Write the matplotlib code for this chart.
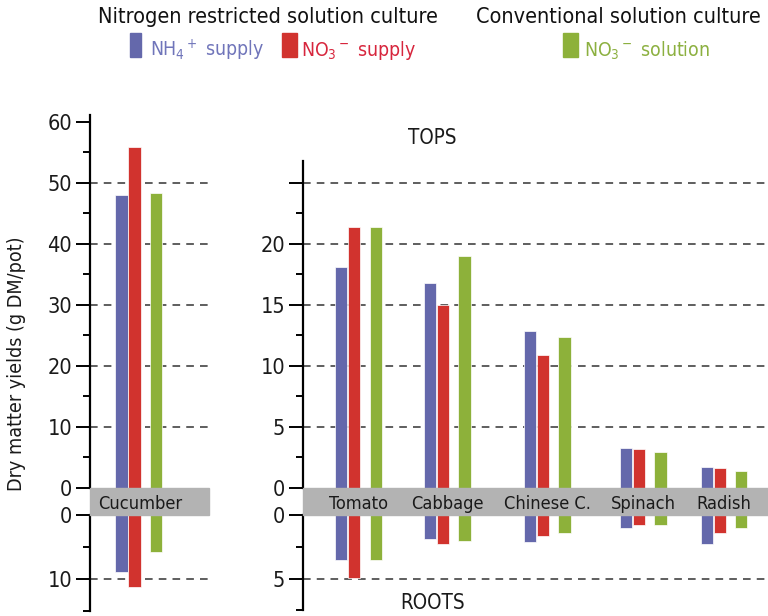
import matplotlib
matplotlib.use("Agg")
import matplotlib.pyplot as plt
from matplotlib import font_manager
from matplotlib.patches import Rectangle
from matplotlib.transforms import blended_transform_factory

# ---------------- data ----------------
categories = ['Cucumber', 'Tomato', 'Cabbage', 'Chinese C.', 'Spinach', 'Radish']
series_labels = ['NH$_4$$^+$ supply', 'NO$_3$$^-$ supply', 'NO$_3$$^-$ solution']
tops_nh4 = [48.0, 18.1, 16.8, 12.85, 3.25, 1.72]
tops_no3 = [55.8, 21.4, 15.0, 10.9, 3.2, 1.66]
tops_sol = [48.4, 21.4, 19.0, 12.4, 2.95, 1.42]
roots_nh4 = [8.9, 3.56, 1.88, 2.09, 1.05, 2.3]
roots_no3 = [11.3, 4.98, 2.28, 1.65, 0.79, 1.41]
roots_sol = [5.85, 3.51, 2.04, 1.41, 0.79, 0.99]
group_titles = ['Nitrogen restricted solution culture', 'Conventional solution culture']
tops_ticks_left = [0, 10, 20, 30, 40, 50, 60]
tops_ticks_right = [0, 5, 10, 15, 20, 25]
tops_ticklabels_right = ['0', '5', '10', '15', '20', '']
roots_ticks_left = [0, 10]
roots_ticks_right = [0, 5]

# ---------------- font choice ----------------
entries = font_manager.fontManager.ttflist

def is_regular(e):
    return e.style == 'normal' and e.weight in (400, 'normal', 'regular', 'book')

chosen = None
for e in entries:
    if e.name == 'Liberation Sans Narrow' and is_regular(e):
        chosen = (e.name, 'normal')
        break
for want in ('condensed', 'semi-condensed'):
    if chosen is not None:
        break
    for fam in ['Open Sans', 'Noto Sans', 'Roboto', 'DejaVu Sans', 'Lato', 'Inter']:
        for e in entries:
            if e.name == fam and is_regular(e) and str(e.stretch) == want:
                chosen = (fam, want)
                break
        if chosen:
            break
if chosen is None:
    for e in entries:
        if ('Condensed' in e.name or 'Narrow' in e.name) and is_regular(e):
            chosen = (e.name, str(e.stretch))
            break
if chosen is None:
    chosen = ('Roboto', 'normal')

FONT, STRETCH = chosen
plt.rcParams['font.family'] = [FONT, 'DejaVu Sans']
plt.rcParams['font.stretch'] = STRETCH
plt.rcParams['mathtext.fontset'] = 'custom'
plt.rcParams['mathtext.rm'] = FONT
plt.rcParams['mathtext.it'] = FONT
plt.rcParams['mathtext.bf'] = FONT

bar_colors = ['#6468AB', '#D1332E', '#8DB13A']
text_colors = ['#7075BA', '#D7263D', '#8CB040']
band_color = '#B3B3B3'
grid_color = '#333333'

W, H = 768, 616
fig = plt.figure(figsize=(W / 100, H / 100), dpi=100)
renderer = fig.canvas.get_renderer()

def fit_size(strings, target_px, base=10.0):
    tot = 0.0
    for s in strings:
        t = fig.text(0, 0, s, fontsize=base)
        tot += t.get_window_extent(renderer).width
        t.remove()
    return base * target_px / tot

K = 1.08  # the reference face is a little taller than this one for equal width
fs_title = K * fit_size(group_titles, 315 + 262)
fs_cat = K * fit_size(categories, 393)
fs_tick = K * fit_size(['60', '50', '40'], 69)
fs_legend = K * fit_size(series_labels, 331)
fs_ylabel = 1.04 * fit_size(['Dry matter yields (g DM/pot)'], 245)
fs_tr = K * fit_size(['TOPS', 'ROOTS'], 106)

def fx(px):
    return px / W

def fy(py):
    return 1 - py / H

offsets = [-0.19, -0.046, 0.188]
bar_w = 0.135
right_pos = [0.0, 0.97, 2.065, 3.116, 4.0]

def make_ax(x0, x1, ytop, ybot):
    return fig.add_axes([fx(x0), fy(ybot), fx(x1 - x0), (ybot - ytop) / H])

ax_lt = make_ax(90, 209, 115, 488)
ax_lb = make_ax(90, 209, 515, 611)
ax_rt = make_ax(303, 768, 161, 488)
ax_rb = make_ax(303, 768, 515, 610.4)

for a in (ax_lt, ax_lb):
    a.set_xlim(-0.534, 0.768)
for a in (ax_rt, ax_rb):
    a.set_xlim(-0.607, 4.48)

ax_lt.set_ylim(0, 61.1)
ax_lb.set_ylim(15, 0)
ax_rt.set_ylim(0, 26.8)
ax_rb.set_ylim(7.5, 0)

tops = [tops_nh4, tops_no3, tops_sol]
roots = [roots_nh4, roots_no3, roots_sol]

for si in range(3):
    kw = dict(width=bar_w, color=bar_colors[si], edgecolor='white', linewidth=0.5, zorder=3)
    ax_lt.bar([offsets[si]], [tops[si][0]], **kw)
    ax_lb.bar([offsets[si]], [roots[si][0]], **kw)
    xs = [p + offsets[si] for p in right_pos]
    ax_rt.bar(xs, tops[si][1:], **kw)
    ax_rb.bar(xs, roots[si][1:], **kw)

def style(ax, major, labels, minor, grid_vals):
    for s in ['top', 'right', 'bottom']:
        ax.spines[s].set_visible(False)
    ax.spines['left'].set_linewidth(1.6)
    ax.spines['left'].set_color('black')
    ax.set_xticks([])
    ax.set_yticks(major)
    ax.set_yticklabels(labels)
    ax.set_yticks(minor, minor=True)
    ax.tick_params(axis='y', which='major', length=10, width=1.4, direction='out',
                   labelsize=fs_tick, pad=3, color='black', labelcolor='#1a1a1a')
    ax.tick_params(axis='y', which='minor', length=5, width=1.4, direction='out',
                   color='black')
    for v in grid_vals:
        ax.axhline(v, color=grid_color, lw=1.1, ls=(0, (5, 4)), zorder=1)
    ax.patch.set_visible(False)

style(ax_lt, tops_ticks_left, [str(v) for v in tops_ticks_left],
      [5, 15, 25, 35, 45, 55], [v for v in tops_ticks_left if 0 < v < 60])
style(ax_lb, roots_ticks_left, [str(v) for v in roots_ticks_left], [5, 15],
      [v for v in roots_ticks_left if v > 0])
style(ax_rt, tops_ticks_right, tops_ticklabels_right, [2.5, 7.5, 12.5, 17.5, 22.5],
      [v for v in tops_ticks_right if v > 0])
style(ax_rb, roots_ticks_right, [str(v) for v in roots_ticks_right], [2.5, 7.5],
      [v for v in roots_ticks_right if v > 0])

# grey band with category labels
fig.patches.append(Rectangle((fx(90), fy(515)), fx(209 - 90), (515 - 488) / H,
                             transform=fig.transFigure, color=band_color, zorder=5))
fig.patches.append(Rectangle((fx(303), fy(515)), fx(768 - 303), (515 - 488) / H,
                             transform=fig.transFigure, color=band_color, zorder=5))
tr_l = blended_transform_factory(ax_lt.transData, fig.transFigure)
tr_r = blended_transform_factory(ax_rt.transData, fig.transFigure)
fig.text(0.02, fy(509), categories[0], transform=tr_l, ha='center', va='baseline',
         fontsize=fs_cat, color='#1a1a1a', zorder=6)
for i, p in enumerate(right_pos):
    fig.text(p, fy(509), categories[i + 1], transform=tr_r, ha='center', va='baseline',
             fontsize=fs_cat, color='#1a1a1a', zorder=6)

# labels
fig.text(fx(17), fy(364), 'Dry matter yields (g DM/pot)', rotation=90,
         ha='center', va='center', fontsize=fs_ylabel, color='#1a1a1a')
fig.text(fx(432.5), fy(138), 'TOPS', ha='center', va='center', fontsize=fs_tr, color='#1a1a1a')
fig.text(fx(432.5), fy(603), 'ROOTS', ha='center', va='center', fontsize=fs_tr, color='#1a1a1a')

# titles and legend
fig.text(fx(267.5), fy(23.3), group_titles[0], ha='center', va='baseline',
         fontsize=fs_title, color='#111111')
fig.text(fx(618.3), fy(23.3), group_titles[1], ha='center', va='baseline',
         fontsize=fs_title, color='#111111')

legend_patches = [(129.5, 141), (282, 297), (563, 578)]
legend_text_x = [150.5, 301, 583.5]
for si in range(3):
    x0, x1 = legend_patches[si]
    fig.patches.append(Rectangle((fx(x0), fy(56.7)), fx(x1 - x0), 24 / H,
                                 transform=fig.transFigure, color=bar_colors[si]))
    fig.text(fx(legend_text_x[si]), fy(56.5), series_labels[si], ha='left', va='baseline',
             fontsize=fs_legend, color=text_colors[si])

fig.savefig('out.png', dpi=100)
